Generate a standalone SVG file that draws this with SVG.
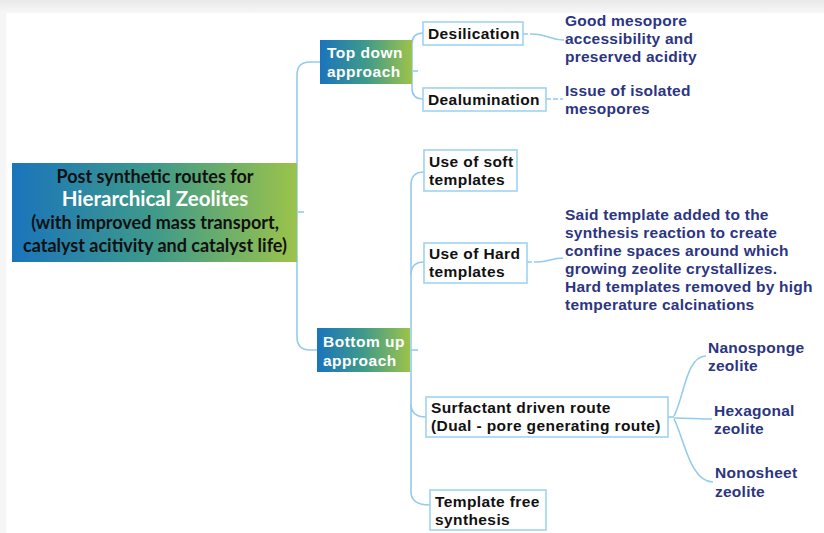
<svg xmlns="http://www.w3.org/2000/svg" width="824" height="533" viewBox="0 0 824 533">
<defs>
<linearGradient id="g1" x1="0" y1="0" x2="1" y2="0">
<stop offset="0" stop-color="#1a74bc"/>
<stop offset="0.5" stop-color="#3f9a8a"/>
<stop offset="1" stop-color="#9cc34a"/>
</linearGradient>
<linearGradient id="top" x1="0" y1="0" x2="0" y2="1">
<stop offset="0" stop-color="#e9e9e9"/>
<stop offset="1" stop-color="#f7f7f7"/>
</linearGradient>
<style>
.c{fill:none;stroke:#93cbec;stroke-width:1.6}
.d{fill:none;stroke:#93cbec;stroke-width:1.6;stroke-dasharray:5 2}
.b{fill:#fff;stroke:#9fd2f2;stroke-width:1.6}
.t{font-family:"Liberation Sans",Arial,sans-serif;font-weight:bold;font-size:15.5px;letter-spacing:0.4px;fill:#111}
.w{font-family:"Liberation Sans",Arial,sans-serif;font-weight:bold;font-size:15.5px;letter-spacing:0.5px;fill:#fff}
.n{font-family:"Liberation Sans",Arial,sans-serif;font-weight:bold;font-size:15.5px;letter-spacing:0.25px;fill:#2c3580}
.r{font-family:"Lato","Open Sans",sans-serif;font-weight:bold;font-size:18px;fill:#111;text-anchor:middle}
</style>
</defs>
<rect x="0" y="0" width="824" height="533" fill="#fff"/>
<rect x="0" y="0" width="824" height="13" fill="url(#top)"/>
<rect x="0" y="13" width="6" height="520" fill="#f6f6f6"/>

<g id="connectors">
<path class="c" d="M320,62 H310 Q297,62 297,75 V337 Q297,350 310,350 H317"/>
<path class="c" d="M298,212 H304"/>
<path class="c" d="M423,33 Q412,33 412,44 V88 Q412,99 423,99"/>
<path class="c" d="M413,71 H418"/>
<path class="c" d="M424,172 Q411,172 411,185 V492 Q411,505 430,505"/>
<path class="c" d="M411,275 Q411,262 424,262"/>
<path class="c" d="M411,404 Q411,417 426,417"/>
<path class="c" d="M411,350 H418"/>
<path class="d" d="M523,34 H532"/>
<path class="c" d="M532,34 C548,34 550,40 564,40"/>
<path class="d" d="M546,99 H563"/>
<path class="d" d="M527,262 H537"/>
<path class="c" d="M537,262 C548,262 552,258 563,258"/>
<path class="c" d="M668,417 H674"/>
<path class="c" d="M674,416 C684,398 686,356 706,356"/>
<path class="c" d="M674,418 C688,418 698,419 712,419"/>
<path class="c" d="M674,419 C684,438 690,482 713,482"/>
</g>

<g id="root">
<rect x="12" y="163" width="285" height="99" fill="url(#g1)"/>
<text class="r" x="155" y="182.5">Post synthetic routes for</text>
<text class="r" x="155" y="206" style="fill:#fff;font-size:20.5px">Hierarchical Zeolites</text>
<text class="r" x="155" y="229">(with improved mass transport,</text>
<text class="r" x="155" y="251.5">catalyst acitivity and catalyst life)</text>
</g>

<g id="topdown">
<rect x="320" y="40" width="92" height="44" fill="url(#g1)"/>
<text class="w" x="327" y="58">Top down</text>
<text class="w" x="327" y="77">approach</text>
</g>

<g id="bottomup">
<rect x="317" y="328" width="93" height="44" fill="url(#g1)"/>
<text class="w" x="323" y="347">Bottom up</text>
<text class="w" x="323" y="366">approach</text>
</g>

<g id="desilication">
<rect class="b" x="423" y="22" width="100" height="23"/>
<text class="t" x="428" y="39">Desilication</text>
</g>

<g id="dealumination">
<rect class="b" x="423" y="88" width="123" height="23"/>
<text class="t" x="428" y="105">Dealumination</text>
</g>

<g id="good-mesopore">
<text class="n" x="565" y="26">Good mesopore</text>
<text class="n" x="565" y="44">accessibility and</text>
<text class="n" x="565" y="62">preserved acidity</text>
</g>

<g id="isolated">
<text class="n" x="565" y="96">Issue of isolated</text>
<text class="n" x="565" y="114">mesopores</text>
</g>

<g id="soft">
<rect class="b" x="424" y="150" width="93" height="41"/>
<text class="t" x="429" y="167">Use of soft</text>
<text class="t" x="429" y="185">templates</text>
</g>

<g id="hard">
<rect class="b" x="424" y="243" width="103" height="40"/>
<text class="t" x="429" y="259">Use of Hard</text>
<text class="t" x="429" y="277">templates</text>
</g>

<g id="hard-note">
<text class="n" x="565" y="220">Said template added to the</text>
<text class="n" x="565" y="238">synthesis reaction to create</text>
<text class="n" x="565" y="256">confine spaces around which</text>
<text class="n" x="565" y="274">growing zeolite crystallizes.</text>
<text class="n" x="565" y="292">Hard templates removed by high</text>
<text class="n" x="565" y="310">temperature calcinations</text>
</g>

<g id="surfactant">
<rect class="b" x="426" y="397" width="242" height="40"/>
<text class="t" x="431" y="413">Surfactant driven route</text>
<text class="t" x="431" y="431">(Dual - pore generating route)</text>
</g>

<g id="nanosponge">
<text class="n" x="708" y="353">Nanosponge</text>
<text class="n" x="708" y="371">zeolite</text>
</g>

<g id="hexagonal">
<text class="n" x="714" y="416">Hexagonal</text>
<text class="n" x="714" y="434">zeolite</text>
</g>

<g id="nonosheet">
<text class="n" x="715" y="478">Nonosheet</text>
<text class="n" x="715" y="497">zeolite</text>
</g>

<g id="template-free">
<rect class="b" x="430" y="490" width="116" height="40"/>
<text class="t" x="435" y="507">Template free</text>
<text class="t" x="435" y="525">synthesis</text>
</g>
</svg>
